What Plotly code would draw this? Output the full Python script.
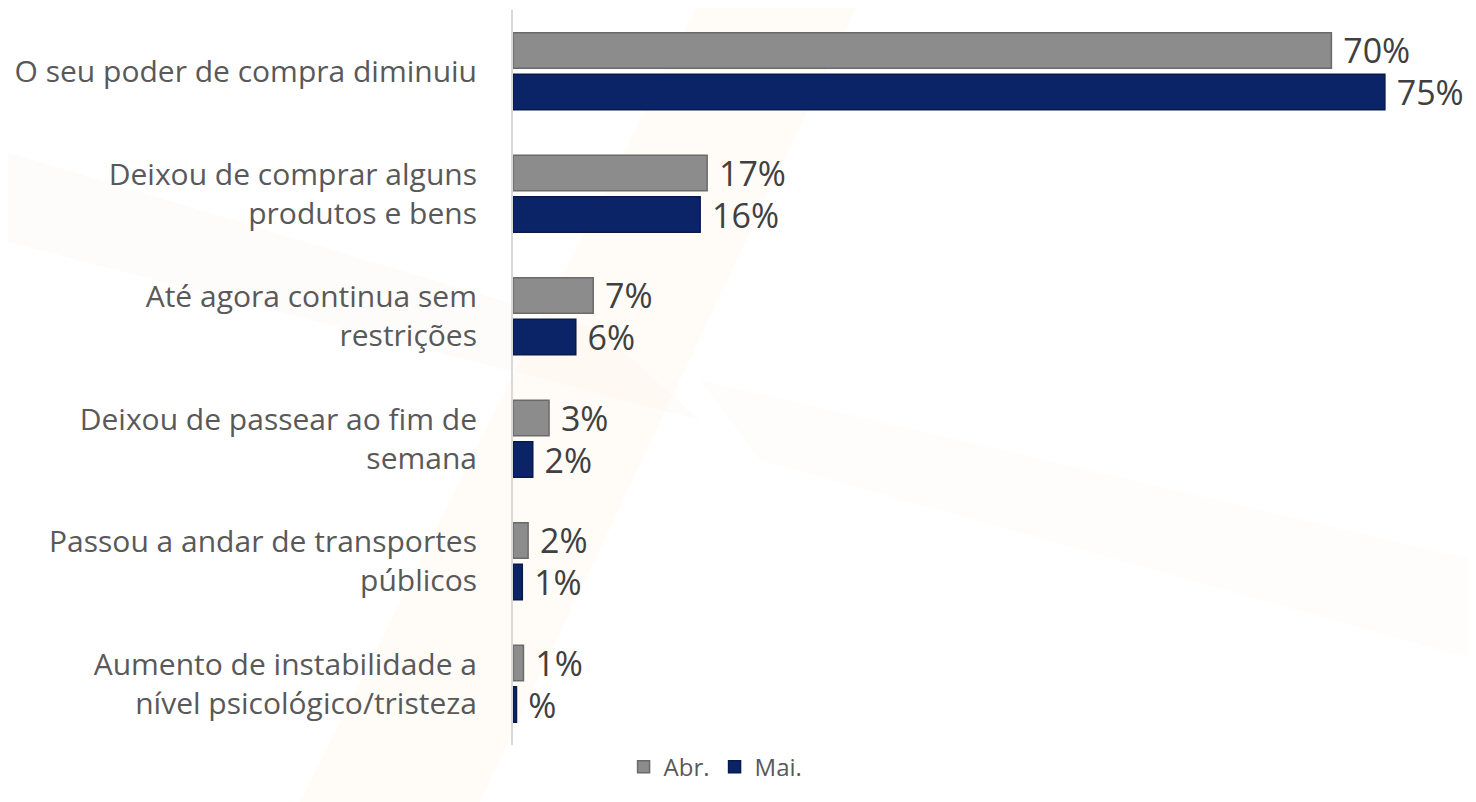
import plotly.graph_objects as go

categories = [
    "O seu poder de compra diminuiu",
    "Deixou de comprar alguns<br>produtos e bens",
    "Até agora continua sem<br>restrições",
    "Deixou de passear ao fim de<br>semana",
    "Passou a andar de transportes<br>públicos",
    "Aumento de instabilidade a<br>nível psicológico/tristeza",
]
abr_values = [70.4, 16.7, 6.9, 3.1, 1.3, 0.9]
mai_values = [75.0, 16.1, 5.4, 1.7, 0.8, 0.3]
abr_labels = ["70%", "17%", "7%", "3%", "2%", "1%"]
mai_labels = ["75%", "16%", "6%", "2%", "1%", "%"]

FONT = "Open Sans, Noto Sans, sans-serif"
PAD = "\u00a0"

# figure geometry (page has an 8px body margin)
W_FIG, H_FIG = 1468, 794
L, R, T, B = 505, 33, 2, 57
PW, PH = W_FIG - L - R, H_FIG - T - B


def px(x, y):
    """page pixel -> paper coords"""
    return ((x - 8 - L) / PW, 1 - (y - 8 - T) / PH)


def poly(points):
    pts = [px(x, y) for x, y in points]
    return "M " + " L ".join(f"{a:.4f},{b:.4f}" for a, b in pts) + " Z"


fig = go.Figure()
fig.add_trace(go.Bar(
    name="Abr.", y=categories, x=abr_values, orientation="h",
    text=[PAD + t for t in abr_labels], textposition="outside", cliponaxis=False,
    constraintext="none",
    textfont=dict(size=34, color="#404040", family=FONT),
    marker=dict(color="#8c8c8c", line=dict(color="#6a6a6a", width=1.5)),
))
fig.add_trace(go.Bar(
    name="Mai.", y=categories, x=mai_values, orientation="h",
    text=[PAD + t for t in mai_labels], textposition="outside", cliponaxis=False,
    constraintext="none",
    textfont=dict(size=34, color="#404040", family=FONT),
    marker=dict(color="#0b2468", line=dict(color="#061a4c", width=1.5)),
))

# very faint background watermark swooshes
shapes = [
    dict(type="path", xref="paper", yref="paper", layer="below", line=dict(width=0),
         fillcolor="rgba(250,190,110,0.05)",
         path=poly([(700, 0), (860, 0), (480, 802), (300, 802)])),
    dict(type="path", xref="paper", yref="paper", layer="below", line=dict(width=0),
         fillcolor="rgba(240,200,160,0.05)",
         path=poly([(0, 150), (600, 330), (700, 420), (0, 240)])),
    dict(type="path", xref="paper", yref="paper", layer="below", line=dict(width=0),
         fillcolor="rgba(245,215,180,0.05)",
         path=poly([(700, 380), (1476, 560), (1476, 660), (760, 460)])),
]

fig.update_layout(
    width=W_FIG, height=H_FIG,
    margin=dict(l=L, r=R, t=T, b=B, autoexpand=False),
    paper_bgcolor="white", plot_bgcolor="rgba(0,0,0,0)",
    barmode="group", bargap=0.32, bargroupgap=0.15,
    font=dict(family=FONT, color="#595959"),
    showlegend=True,
    legend=dict(orientation="h", xref="container", yref="container",
                x=0.482, xanchor="center", y=0.044, yanchor="middle",
                font=dict(size=24, color="#595959"), traceorder="normal",
                itemwidth=30),
    shapes=shapes,
)
fig.update_xaxes(range=[0, 80], visible=False, showgrid=False, zeroline=False)
fig.update_yaxes(autorange="reversed", showgrid=False, zeroline=False,
                 showline=True, linecolor="#d9d9d9", linewidth=2,
                 ticks="", ticklabelstandoff=28, automargin=False,
                 tickfont=dict(size=30, color="#595959", family=FONT))

fig.write_html("out.html")
